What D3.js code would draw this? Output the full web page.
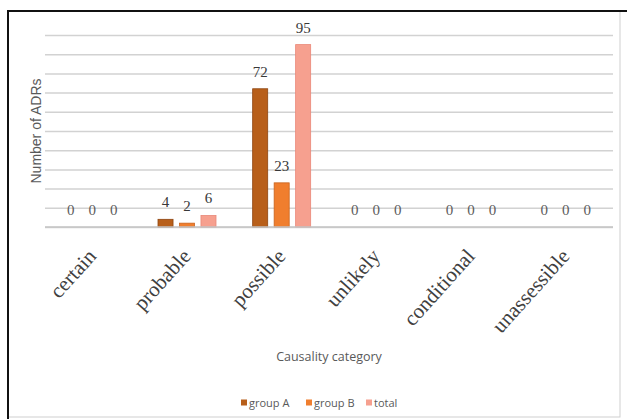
<!DOCTYPE html>
<html>
<head>
<meta charset="utf-8">
<script src="https://cdn.jsdelivr.net/npm/d3@7/dist/d3.min.js"></script>
<style>
  html, body { margin: 0; padding: 0; background: #fff; }
  svg { display: block; }
</style>
</head>
<body>
<svg id="chart" width="627" height="419"></svg>
<script>
// Causality categories and ADR counts per series
const categories = ["certain", "probable", "possible", "unlikely", "conditional", "unassessible"];
const seriesNames = ["group A", "group B", "total"];
const groupA = [0, 4, 72, 0, 0, 0];
const groupB = [0, 2, 23, 0, 0, 0];
const total  = [0, 6, 95, 0, 0, 0];
const yTicks = [0, 10, 20, 30, 40, 50, 60, 70, 80, 90, 100];

const seriesValues = [groupA, groupB, total];
const colors = ["#B85F1A", "#F07E2E", "#F6A08F"];
const strokes = ["#8E4510", "#C9631E", "#E98878"];

const svg = d3.select("#chart");

// Frame around the figure
svg.append("rect").attr("x", 8).attr("y", 11).attr("width", 612).attr("height", 406)
  .attr("fill", "#fff").attr("stroke", "#cfcfcf").attr("stroke-width", 1);
svg.append("line").attr("x1", 8).attr("x2", 627).attr("y1", 11).attr("y2", 11)
  .attr("stroke", "#111").attr("stroke-width", 2);
svg.append("line").attr("x1", 8).attr("x2", 8).attr("y1", 10).attr("y2", 419)
  .attr("stroke", "#111").attr("stroke-width", 2);

const plot = { left: 45, right: 613, top: 35, bottom: 227 };

const x0 = d3.scaleBand().domain(categories).range([plot.left, plot.right]).padding(0);
const x1 = d3.scaleBand().domain(seriesNames).range([-29, 29]).paddingInner(0.3).paddingOuter(0);
const y = d3.scaleLinear().domain([0, 100]).range([plot.bottom, plot.top]);

// Horizontal gridlines (no tick labels shown)
const yAxis = d3.axisLeft(y).tickValues(yTicks).tickSize(-(plot.right - plot.left)).tickFormat("");
const gy = svg.append("g").attr("transform", `translate(${plot.left},0)`).call(yAxis);
gy.select(".domain").remove();
gy.selectAll(".tick line").attr("stroke", "#d2d2d2").attr("stroke-width", 1.5);

// Bars
const groups = svg.append("g").selectAll("g")
  .data(categories)
  .join("g")
  .attr("transform", d => `translate(${x0(d) + x0.bandwidth() / 2},0)`);

groups.selectAll("rect")
  .data((c, i) => seriesNames.map((s, k) => ({ s, k, v: seriesValues[k][i] })))
  .join("rect")
  .attr("x", d => x1(d.s))
  .attr("width", x1.bandwidth())
  .attr("y", d => y(d.v))
  .attr("height", d => y(0) - y(d.v))
  .attr("fill", d => colors[d.k])
  .attr("stroke", d => d.v > 0 ? strokes[d.k] : "none")
  .attr("stroke-width", 0.8);

// Value labels above each bar
groups.selectAll("text")
  .data((c, i) => seriesNames.map((s, k) => ({ s, k, v: seriesValues[k][i] })))
  .join("text")
  .attr("x", d => x1(d.s) + x1.bandwidth() / 2)
  .attr("y", d => y(d.v) - 12)
  .attr("text-anchor", "middle")
  .attr("font-family", "'Liberation Serif', 'Times New Roman', serif")
  .attr("font-size", 15)
  .attr("fill", d => d.v > 0 ? "#383838" : "#5c5c5c")
  .text(d => d.v);

// Baseline
svg.append("line").attr("x1", plot.left).attr("x2", plot.right)
  .attr("y1", y(0)).attr("y2", y(0)).attr("stroke", "#c4c4c4").attr("stroke-width", 1.6);

// Rotated category labels
const xAxis = d3.axisBottom(x0).tickSize(0).tickPadding(0);
const gx = svg.append("g").attr("transform", `translate(0,${plot.bottom})`).call(xAxis);
gx.select(".domain").remove();
gx.selectAll(".tick text")
  .attr("font-family", "'Liberation Serif', 'Times New Roman', serif")
  .attr("font-size", 21)
  .attr("fill", "#404040")
  .attr("text-anchor", "end")
  .attr("dy", 0)
  .attr("y", 0)
  .attr("transform", "translate(5,30) rotate(-48)");

// Axis titles
svg.append("text")
  .attr("transform", "translate(41,131) rotate(-90)")
  .attr("text-anchor", "middle")
  .attr("font-family", "'Liberation Sans', Arial, sans-serif")
  .attr("font-size", 14)
  .attr("fill", "#595959")
  .text("Number of ADRs");

svg.append("text")
  .attr("x", 329).attr("y", 361)
  .attr("text-anchor", "middle")
  .attr("font-family", "'Open Sans', 'Liberation Sans', sans-serif")
  .attr("font-size", 12.5)
  .attr("fill", "#595959")
  .text("Causality category");

// Legend
const legendX = [241, 306, 366];
const legend = svg.append("g").selectAll("g")
  .data(seriesNames)
  .join("g")
  .attr("transform", (d, i) => `translate(${legendX[i]},403)`);
legend.append("rect").attr("x", 0).attr("y", -3.5).attr("width", 6).attr("height", 6)
  .attr("fill", (d, i) => colors[i]);
legend.append("text").attr("x", 8).attr("y", 3.8)
  .attr("font-family", "'Open Sans', 'Liberation Sans', sans-serif")
  .attr("font-size", 11)
  .attr("fill", "#595959")
  .text(d => d);
</script>
</body>
</html>
